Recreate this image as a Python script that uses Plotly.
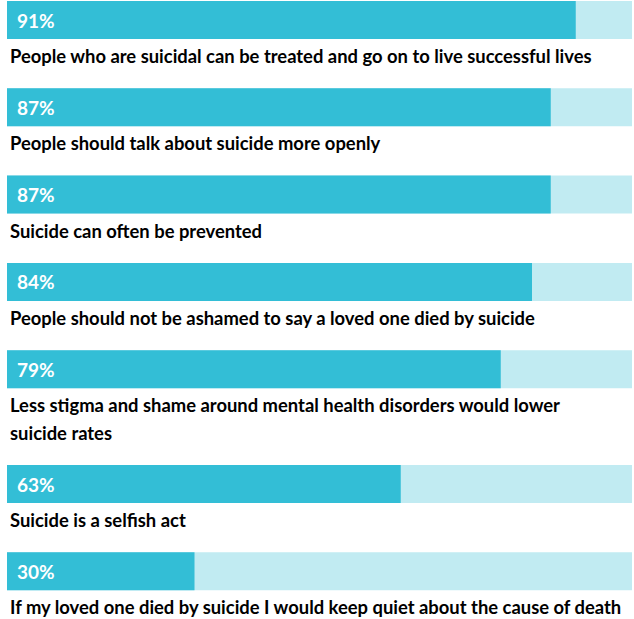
import plotly.graph_objects as go

statements = [
    "People who are suicidal can be treated and go on to live successful lives",
    "People should talk about suicide more openly",
    "Suicide can often be prevented",
    "People should not be ashamed to say a loved one died by suicide",
    "Less stigma and shame around mental health disorders would lower<br>suicide rates",
    "Suicide is a selfish act",
    "If my loved one died by suicide I would keep quiet about the cause of death",
]
values = [91, 87, 87, 84, 79, 63, 30]
full = [100] * len(values)

DARK = "#33BED6"
LIGHT = "#C1EBF2"
FONT = "Lato"

W, H = 634, 619
BAR_H = 38
STEP = 87.3
LINE = 27.5

# layout positions (pixel units along a reversed y axis)
centers = []
top = 1.0
for s in statements:
    centers.append(top + BAR_H / 2)
    top += STEP + LINE * s.count("<br>")

fig = go.Figure()
fig.add_trace(go.Bar(x=full, y=centers, orientation="h", width=BAR_H,
                     marker=dict(color=LIGHT, line=dict(width=0)), hoverinfo="skip"))
fig.add_trace(go.Bar(x=values, y=centers, orientation="h", width=BAR_H,
                     marker=dict(color=DARK, line=dict(width=0)), hoverinfo="skip"))

for s, v, c in zip(statements, values, centers):
    fig.add_annotation(x=0, y=c, text=f"{v}%", showarrow=False, xanchor="left",
                       yanchor="middle", xshift=8,
                       font=dict(family=FONT, size=19, color="white", weight="bold"))
    for k, line in enumerate(s.split("<br>")):
        fig.add_annotation(x=0, y=c + BAR_H / 2 + 17 + LINE * k, text=line,
                           showarrow=False, xanchor="left", yanchor="middle",
                           align="left", xshift=1,
                           font=dict(family=FONT, size=18.4, color="black", weight="bold"))

fig.update_layout(
    width=W, height=H, barmode="overlay", showlegend=False,
    margin=dict(l=7, r=2, t=0, b=0),
    paper_bgcolor="white", plot_bgcolor="white",
    xaxis=dict(range=[0, 100], visible=False, fixedrange=True),
    yaxis=dict(range=[H, 0], visible=False, fixedrange=True),
)
fig.write_html("out.html", config={"displayModeBar": False},
               post_script="document.body.style.margin='0';")
